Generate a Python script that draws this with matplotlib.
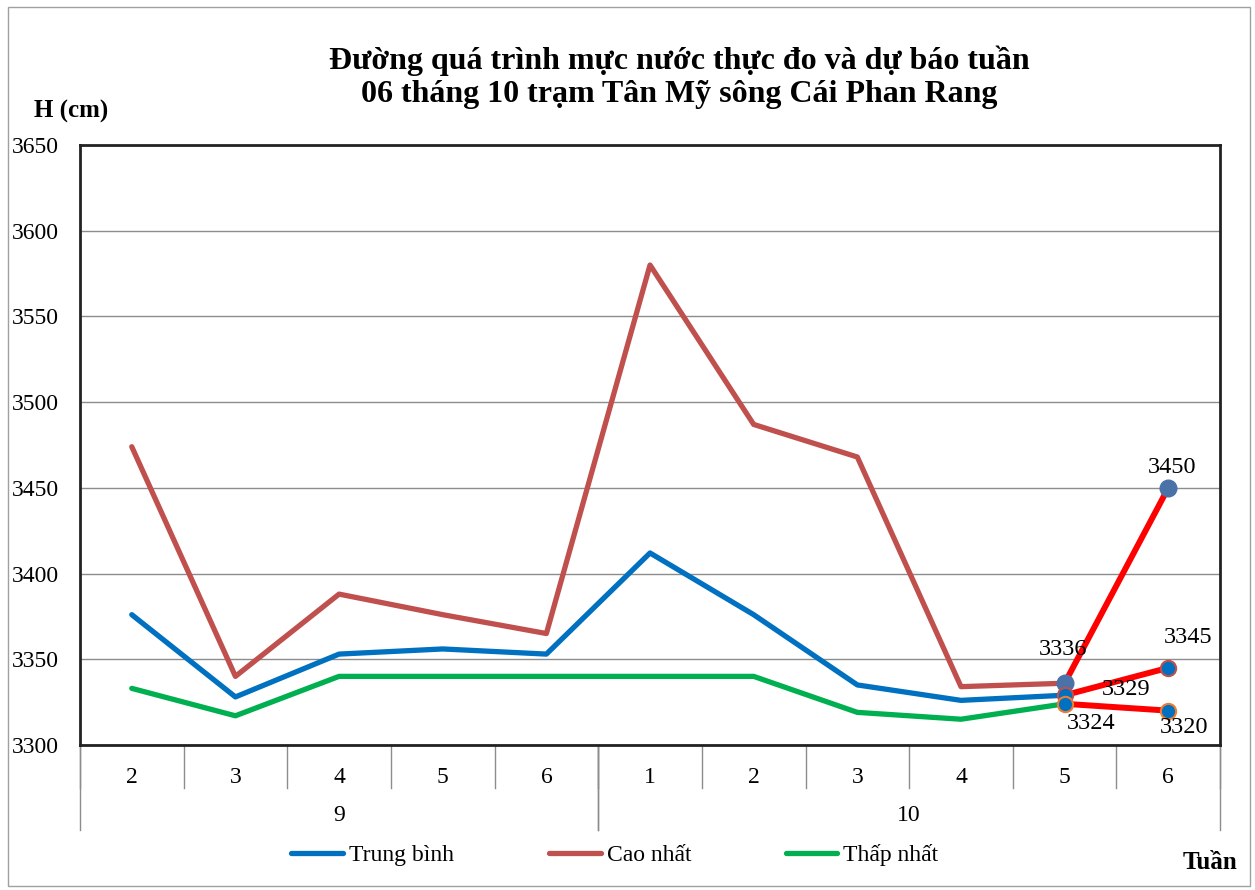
import matplotlib.pyplot as plt
from matplotlib.patches import Rectangle
from matplotlib.lines import Line2D
import matplotlib.transforms as mtransforms

plt.rcParams['font.family'] = ['Liberation Serif', 'DejaVu Serif']

weeks = ['2', '3', '4', '5', '6', '1', '2', '3', '4', '5', '6']
months = ['9', '10']
month_spans = [(0, 4), (5, 10)]

trung_binh = [3376, 3328, 3353, 3356, 3353, 3412, 3376, 3335, 3326, 3329]
cao_nhat = [3474, 3340, 3388, 3376, 3365, 3580, 3487, 3468, 3334, 3336]
thap_nhat = [3333, 3317, 3340, 3340, 3340, 3340, 3340, 3319, 3315, 3324]

# du bao tuan 6
fc_cao = [3336, 3450]
fc_tb = [3329, 3345]
fc_thap = [3324, 3320]

fig = plt.figure(figsize=(12.55, 8.9), dpi=100)
fig.patches.append(Rectangle((0.006, 0.004), 0.99, 0.988, transform=fig.transFigure,
                             fill=False, edgecolor='#a0a0a0', linewidth=1))
ax = fig.add_axes([0.0637, 0.163, 0.9085, 0.674])

x_obs = list(range(len(trung_binh)))
x_fc = [len(trung_binh) - 1, len(trung_binh)]

st = dict(lw=3.8, solid_capstyle='round', solid_joinstyle='round', zorder=3)
ax.plot(x_obs, trung_binh, color='#0070C0', **st)
ax.plot(x_obs, cao_nhat, color='#C0504D', **st)
ax.plot(x_obs, thap_nhat, color='#00B050', **st)

fc = dict(color='#FF0000', lw=4.3, solid_capstyle='round', zorder=4, marker='o')
ax.plot(x_fc, fc_cao, ms=12, mfc='#4a72a8', mec='#4a72a8', **fc)
ax.plot(x_fc, fc_tb, ms=11, mfc='#0070C0', mec='#C0504D', mew=1.5, **fc)
ax.plot(x_fc, fc_thap, ms=11, mfc='#0070C0', mec='#ED7D31', mew=1.5, **fc)

lab = dict(fontsize=17.5, zorder=6, textcoords='offset points', ha='center', va='center')
ax.annotate(str(fc_cao[0]), (x_fc[0], fc_cao[0]), xytext=(-1, 24), **lab)
ax.annotate(str(fc_cao[1]), (x_fc[1], fc_cao[1]), xytext=(3, 15), **lab)
ax.annotate(str(fc_tb[0]), (x_fc[0], fc_tb[0]), xytext=(44, 4), **lab)
ax.annotate(str(fc_tb[1]), (x_fc[1], fc_tb[1]), xytext=(14, 22), **lab)
ax.annotate(str(fc_thap[0]), (x_fc[0], fc_thap[0]), xytext=(19, -14), **lab)
ax.annotate(str(fc_thap[1]), (x_fc[1], fc_thap[1]), xytext=(11, -12), **lab)

ax.set_xlim(-0.5, len(weeks) - 0.5)
ax.set_ylim(3300, 3650)
ax.set_yticks(range(3300, 3651, 50))
ax.tick_params(axis='y', length=0, labelsize=17, pad=15)
ax.tick_params(axis='x', length=0, labelbottom=False)
ax.grid(axis='y', color='#8c8c8c', lw=1)
ax.set_axisbelow(True)
for s in ax.spines.values():
    s.set_linewidth(2)
    s.set_color('#222222')

# truc x nhieu cap
tr = mtransforms.blended_transform_factory(ax.transData, ax.transAxes)
for i, w in enumerate(weeks):
    ax.text(i, -0.055, w, transform=tr, ha='center', va='center', fontsize=17)
for k in range(len(weeks) + 1):
    ax.plot([k - 0.5, k - 0.5], [0, -0.072], transform=tr, color='#8c8c8c', lw=1, clip_on=False)
for m, (a, b) in zip(months, month_spans):
    ax.text((a + b) / 2, -0.118, m, transform=tr, ha='center', va='center', fontsize=17)
    for e in (a - 0.5, b + 0.5):
        ax.plot([e, e], [0, -0.142], transform=tr, color='#8c8c8c', lw=1, clip_on=False)

fig.text(0.541, 0.913, 'Đường quá trình mực nước thực đo và dự báo tuần\n06 tháng 10 trạm Tân Mỹ sông Cái Phan Rang',
         ha='center', va='center', fontsize=23, fontweight='bold', linespacing=1.2)
fig.text(0.057, 0.875, 'H (cm)', ha='center', va='center', fontsize=18, fontweight='bold')
fig.text(0.986, 0.031, 'Tuần', ha='right', va='center', fontsize=18, fontweight='bold')

handles = [Line2D([], [], color='#0070C0', lw=3.8, solid_capstyle='round'),
           Line2D([], [], color='#C0504D', lw=3.8, solid_capstyle='round'),
           Line2D([], [], color='#00B050', lw=3.8, solid_capstyle='round')]
fig.legend(handles, ['Trung bình', 'Cao nhất', 'Thấp nhất'], loc='center', bbox_to_anchor=(0.49, 0.039),
           ncol=3, frameon=False, fontsize=17, handlelength=2.2, columnspacing=4.0, handletextpad=0.25)

fig.savefig('out.png', dpi=100)
